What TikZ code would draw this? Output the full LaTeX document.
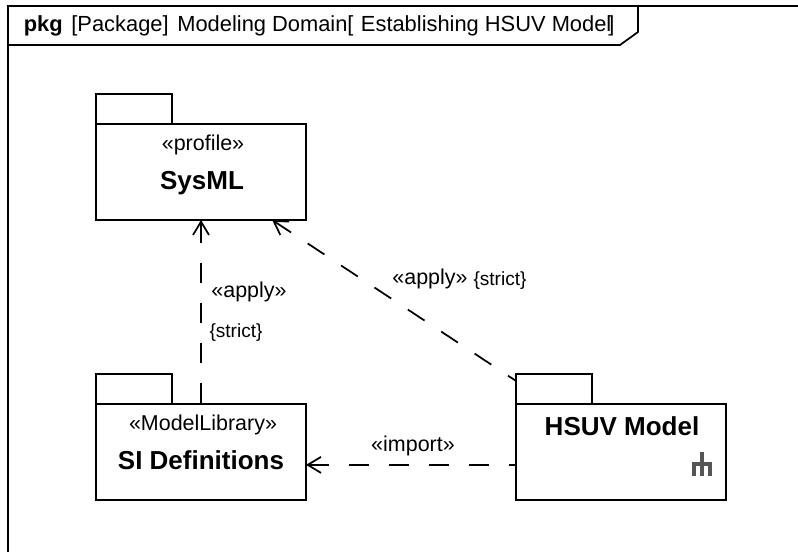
\documentclass[tikz,border=0pt]{standalone}
\usepackage{fontspec}
\setmainfont{Liberation Sans}
\usetikzlibrary{arrows.meta, positioning}

\definecolor{icongray}{HTML}{555555}

\tikzset{
  pkgbody/.style = {draw, rectangle, outer sep = 0pt, inner sep = 0pt,
        minimum width = 157.5pt, minimum height = 72pt},
  pkgtab/.style = {draw, rectangle, outer sep = 0pt, inner sep = 0pt,
        minimum width = 57pt, minimum height = 22.5pt},
  pkgname/.style = {inner sep = 0pt, font = \fontsize{19.5}{23}\selectfont\bfseries},
  keyword/.style = {inner sep = 0pt, font = \fontsize{16.1}{19}\selectfont},
  prop/.style = {inner sep = 0pt, font = \fontsize{14.3}{17}\selectfont},
  dep/.style = {dash pattern = on 15pt off 15pt,
        {Straight Barb[length = 10pt, width = 12pt]}-}
}

\begin{document}
\begin{tikzpicture}[x = 0.75pt, y = -0.75pt, line width = 1.3pt]
  \useasboundingbox (0, 0) rectangle (798, 552);

  \draw (8, 552) -- (8, 6) -- (798, 6);
  \draw (8, 45) -- (620, 45) -- (638, 32) -- (638, 6);
  \node [anchor = west, inner sep = 0pt, font = \fontsize{16.4}{19}\selectfont]
        (title) at (23, 26)
        {\textbf{pkg}\hspace{6.5pt}[Package]\hspace{2pt} Modeling Domain[\hspace{1pt} Establishing HSUV Model\kern-2.2pt]};

  \foreach \px/\py/\pkg in {
    201/172/sysml,
    201/452/si,
    621/452/hsuv} {
    \node [pkgbody] (\pkg) at (\px, \py) {};
    \node [pkgtab, above right = 0pt and 0pt of \pkg.north west] (\pkg tab) {};
  }

  \node [keyword] (sysmlkey) at (203, 145) {«profile»};
  \node [pkgname] (sysmlname) at (202, 183) {SysML};
  \node [keyword] (sikey) at (203, 425) {«ModelLibrary»};
  \node [pkgname] (siname) at (201, 460) {SI Definitions};
  \node [pkgname] (hsuvname) at (622, 426) {HSUV Model};

  \draw [dep] (sysml.south) -- (si.north);
  \draw [dep] (sysml.-34) -- (hsuvtab.168);
  \draw [dep] (si.-7.595) -- (hsuv.187.595);

  \node [keyword] (applyleft) at (249, 292) {«apply»};
  \node [prop] (strictleft) at (236, 333) {\{strict\}};
  \node [keyword] (applyright) at (430, 279) {«apply»};
  \node [prop] (strictright) at (500, 281) {\{strict\}};
  \node [keyword] (importlabel) at (413, 446) {«import»};

  \draw [icongray, line width = 3pt]
        (694, 476) -- (694, 463.5) -- (710, 463.5) -- (710, 476)
        (702, 452) -- (702, 476);
\end{tikzpicture}
\end{document}
